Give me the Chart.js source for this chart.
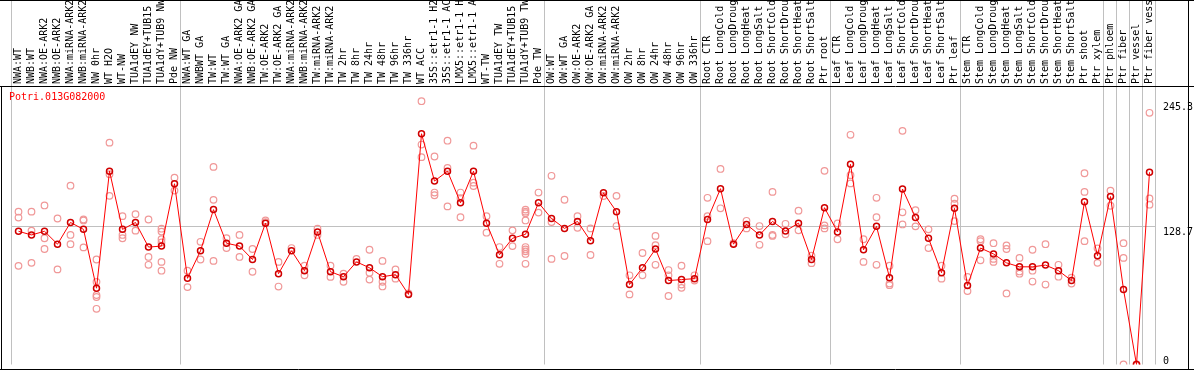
<!DOCTYPE html>
<html>
<head>
<meta charset="utf-8">
<script src="https://cdn.jsdelivr.net/npm/chart.js@4.4.1/dist/chart.umd.min.js"></script>
<style>
  body { margin: 0; background: #fff; }
  canvas { display: block; }
</style>
</head>
<body>
<canvas id="exprChart" width="1194" height="370"></canvas>
<script>
const geneName = "Potri.013G082000";

const categories = [
  'NWA:WT', 'NWB:WT', 'NWA:OE-ARK2', 'NWB:OE-ARK2', 'NWA:miRNA-ARK2', 'NWB:miRNA-ARK2',
  'NW 0hr', 'WT H2O', 'WT-NW', 'TUA1dEY NW', 'TUA1dEY+TUB15 NW', 'TUA1dY+TUB9 NW', 'Pde NW',
  'NWA:WT GA', 'NWBWT GA', 'TW:WT', 'TW:WT GA', 'NWA:OE-ARK2 GA', 'NWB:OE-ARK2 GA',
  'TW:OE-ARK2', 'TW:OE-ARK2 GA', 'NWA:miRNA-ARK2', 'NWB:miRNA-ARK2', 'TW:miRNA-ARK2',
  'TW:miRNA-ARK2', 'TW 2hr', 'TW 8hr', 'TW 24hr', 'TW 48hr', 'TW 96hr', 'TW 336hr',
  'WT ACC', '35S::etr1-1 H2O', '35S::etr1-1 ACC', 'LMX5::etr1-1 H2O', 'LMX5::etr1-1 ACC',
  'WT-TW', 'TUA1dEY TW', 'TUA1dEY+TUB15 TW', 'TUA1dY+TUB9 TW', 'Pde TW',
  'OW:WT', 'OW:WT GA', 'OW:OE-ARK2', 'OW:OE-ARK2 GA', 'OW:miRNA-ARK2', 'OW:miRNA-ARK2',
  'OW 2hr', 'OW 8hr', 'OW 24hr', 'OW 48hr', 'OW 96hr', 'OW 336hr',
  'Root CTR', 'Root LongCold', 'Root LongDrought', 'Root LongHeat', 'Root LongSalt',
  'Root ShortCold', 'Root ShortDrought', 'Root ShortHeat', 'Root ShortSalt', 'Ptr root',
  'Leaf CTR', 'Leaf LongCold', 'Leaf LongDrought', 'Leaf LongHeat', 'Leaf LongSalt',
  'Leaf ShortCold', 'Leaf ShortDrought', 'Leaf ShortHeat', 'Leaf ShortSalt', 'Ptr leaf',
  'Stem CTR', 'Stem LongCold', 'Stem LongDrought', 'Stem LongHeat', 'Stem LongSalt',
  'Stem ShortCold', 'Stem ShortDrought', 'Stem ShortHeat', 'Stem ShortSalt',
  'Ptr shoot', 'Ptr xylem', 'Ptr phloem', 'Ptr fiber', 'Ptr vessel', 'Ptr fiber vessel'
];

// mean per sample (the connected line)
const means = [
  124.1, 120.7, 124.1, 112.1, 132.3, 125.9, 71.1, 180.1, 125.9, 132.3,
  109.4, 110.3, 168.4, 80.3, 106.0, 144.3, 113.0, 110.3, 97.8, 131.7,
  84.6, 106.0, 87.4, 123.5, 86.4, 81.8, 95.6, 90.1, 81.8, 83.7,
  65.3, 215.0, 170.9, 180.1, 150.7, 180.1, 131.7, 102.3, 117.6, 121.3,
  150.7, 136.0, 126.8, 133.3, 115.2, 159.9, 142.4, 74.5, 90.1, 107.6,
  78.2, 79.1, 80.0, 135.1, 163.8, 112.1, 130.5, 120.7, 133.3, 124.4,
  131.7, 97.8, 146.1, 123.5, 186.5, 106.9, 128.7, 80.9, 163.5, 136.9,
  117.6, 85.5, 145.5, 73.6, 108.5, 103.0, 94.7, 91.0, 91.0, 92.6,
  87.4, 78.2, 151.6, 101.4, 156.5, 69.9, 0, 179.1
];

// single replicates per sample (pale circles)
const replicates = [
  [142.4, 136.9, 91.9], [142.4, 124.7, 94.7], [148.2, 117.6, 107.6], [136.0, 88.6],
  [166.6, 120.7, 112.1], [135.1, 134.2, 109.1], [97.8, 77.0, 64.7, 62.9, 51.9],
  [206.7, 177.3, 157.1], [138.2, 120.7, 117.6], [140.0, 124.7], [135.1, 100.2, 92.9],
  [126.5, 123.8, 116.7, 113.7, 95.6, 87.4], [174.0, 162.0],
  [87.4, 72.1], [114.3, 97.8], [184.1, 153.4, 96.5], [117.6, 108.5], [120.7, 100.2],
  [107.6, 86.4], [134.2, 132.7], [95.6, 72.6], [108.5], [92.0, 83.1], [126.5, 120.7],
  [92.0, 81.6], [84.6, 77.0], [98.4], [106.9, 85.5, 79.1], [96.5, 77.0, 72.7],
  [88.6, 80.0], [66.3], [245.3, 204.9, 193.2], [193.8, 160.2, 157.7],
  [208.5, 183.1, 147.3], [160.2, 155.0, 137.2], [203.9, 169.4, 166.3], [138.2, 122.8],
  [109.4, 93.8], [125.0, 110.3], [144.3, 142.4, 140.9, 134.2, 109.4, 107.2, 105.4, 103.0, 93.8],
  [160.2, 141.5],
  [175.8, 132.7, 98.4], [153.5, 101.1], [138.2, 127.4], [126.8, 102.0], [157.0],
  [157.1, 129.0], [83.1, 65.3], [103.9, 83.1], [119.8, 111.2, 92.9], [88.0, 83.1, 63.8],
  [92.0, 74.5, 71.4], [83.1, 78.2],
  [155.3, 138.2, 114.9], [182.2, 145.5], [113.0], [133.9, 126.8], [129.0, 111.5],
  [160.8, 120.7, 119.8], [131.1, 121.3], [143.3, 125.0], [101.4, 94.4], [180.4, 129.6, 126.8],
  [131.4, 116.7], [214.0, 176.4, 168.7], [116.7, 95.6], [155.3, 137.2, 92.9], [92.0, 75.4, 73.9],
  [217.7, 141.8, 130.5], [143.7, 128.7], [125.9, 108.5], [92.0, 80.0], [154.4, 149.8, 133.6],
  [81.6, 68.4], [116.7, 114.9, 97.1], [113.0, 98.4, 95.6], [110.9, 107.6, 66.2],
  [99.3, 86.7, 84.6], [106.9, 87.4, 77.3], [112.1, 74.5], [92.9, 81.8], [80.9, 75.4],
  [178.2, 160.8, 114.9], [108.2, 94.7], [162.0, 147.9], [113.0, 99.3, 0], [0, 0],
  [234.5, 154.7, 148.9]
];

const yTicks = [0, 128.7, 245.3];
const yMax = 257.6;
// group separators (drawn left of these sample indexes)
const groupBreaks = [0, 13, 41, 53, 63, 73, 84, 85, 86, 87, 88];

Chart.defaults.font.family = '"DejaVu Sans Mono", monospace';
Chart.defaults.font.size = 10;

const meanPoints = means.map((v, i) => ({ x: i, y: v }));
const repPoints = [];
replicates.forEach((list, i) => {
  list.forEach(v => repPoints.push({ x: i, y: v }));
});

const frameLines = {
  id: 'frameLines',
  beforeDatasetsDraw(chart) {
    const ctx = chart.ctx;
    const xs = chart.scales.x;
    const area = chart.chartArea;
    ctx.save();
    ctx.strokeStyle = '#c0c0c0';
    ctx.lineWidth = 1;
    groupBreaks.forEach(function (k) {
      const px = Math.round(xs.getPixelForValue(k - 0.5)) - 0.5;
      ctx.beginPath();
      ctx.moveTo(px, 0);
      ctx.lineTo(px, area.bottom);
      ctx.stroke();
    });
    ctx.restore();
  },
  afterDraw(chart) {
    const ctx = chart.ctx;
    const ys = chart.scales.y;
    const area = chart.chartArea;
    const w = chart.width;
    ctx.save();
    ctx.strokeStyle = '#000';
    ctx.lineWidth = 1;
    ctx.beginPath();
    ctx.moveTo(0, 0.5); ctx.lineTo(w, 0.5);
    ctx.moveTo(0, area.top - 1.5); ctx.lineTo(w, area.top - 1.5);
    ctx.moveTo(0, 369.5); ctx.lineTo(w, 369.5);
    ctx.moveTo(1.5, area.top - 2); ctx.lineTo(1.5, 370);
    ctx.moveTo(1188.5, 0); ctx.lineTo(1188.5, 370);
    ctx.stroke();

    ctx.font = '10px "DejaVu Sans Mono", monospace';
    ctx.fillStyle = '#ff0000';
    ctx.textAlign = 'left';
    ctx.textBaseline = 'middle';
    ctx.fillText(geneName, 9, 97);

    ctx.fillStyle = '#000';
    ctx.textBaseline = 'top';
    yTicks.forEach(function (v) {
      let ty = ys.getPixelForValue(v) + 1.5;
      if (ty + 9 > area.bottom) ty = area.bottom - 8;
      ctx.fillText(String(v), 1163, ty);
    });
    ctx.restore();
  }
};

new Chart(document.getElementById('exprChart').getContext('2d'), {
  type: 'line',
  data: {
    datasets: [
      {
        label: geneName,
        data: meanPoints,
        borderColor: '#ff0000',
        borderWidth: 1,
        pointRadius: 3,
        pointBorderColor: '#d00000',
        pointBorderWidth: 1.5,
        pointBackgroundColor: 'rgba(0,0,0,0)',
        tension: 0
      },
      {
        label: 'replicates',
        data: repPoints,
        showLine: false,
        pointRadius: 3.3,
        pointBorderColor: '#f09898',
        pointBorderWidth: 1.2,
        pointBackgroundColor: 'rgba(0,0,0,0)'
      }
    ]
  },
  options: {
    responsive: false,
    animation: false,
    layout: { padding: { left: 12, top: 0, right: 0, bottom: 1.5 } },
    plugins: {
      legend: { display: false },
      tooltip: { enabled: false }
    },
    scales: {
      x: {
        type: 'linear',
        position: 'top',
        min: -0.5,
        max: categories.length - 0.5,
        afterBuildTicks: s => { s.ticks = categories.map((c, i) => ({ value: i })); },
        afterFit: s => { s.height = 88; },
        grid: { display: false, drawTicks: false },
        border: { display: false },
        ticks: {
          autoSkip: false,
          minRotation: 90,
          maxRotation: 90,
          padding: 4,
          labelOffset: 12,
          color: '#000',
          callback: v => categories[v]
        }
      },
      y: {
        position: 'right',
        min: 0,
        max: yMax,
        afterBuildTicks: s => { s.ticks = yTicks.map(v => ({ value: v })); },
        afterFit: s => { s.width = 38; },
        ticks: { display: false },
        border: { display: false },
        grid: {
          drawTicks: false,
          color: c => (c.tick && c.tick.value === yTicks[1]) ? '#c0c0c0' : 'rgba(0,0,0,0)'
        }
      }
    }
  },
  plugins: [frameLines]
});
</script>
</body>
</html>
